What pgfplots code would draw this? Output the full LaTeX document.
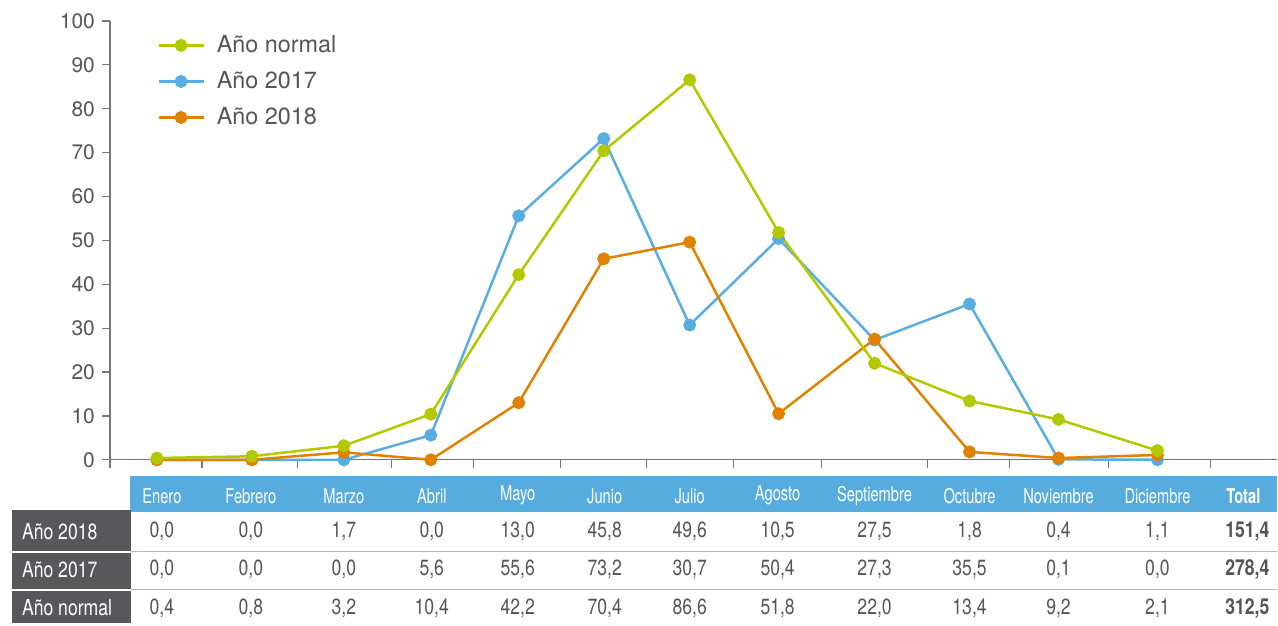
\documentclass[border=0pt]{standalone}
\usepackage{pgfplots}
\pgfplotsset{compat=1.18}
\usepackage{fontspec}
\setmainfont{TeX Gyre Heros}
\newfontfamily\cond[FakeStretch=0.72]{TeX Gyre Heros}
\newfontfamily\narrow[FakeStretch=0.8]{TeX Gyre Heros}
\definecolor{cnorm}{HTML}{B4C800}
\definecolor{c17}{HTML}{58AEE0}
\definecolor{c18}{HTML}{E08200}
\definecolor{hdr}{HTML}{56ABDF}
\definecolor{lab}{HTML}{58585A}
\definecolor{txt}{HTML}{555555}
\definecolor{axc}{HTML}{777777}
% month positions along the x axis (as drawn in the original)
\pgfplotstableread{
x    normal y2017 y2018
157  0.4    0.0   0.0
252  0.8    0.0   0.0
344  3.2    0.0   1.7
431  10.4   5.6   0.0
519  42.2   55.6  13.0
604  70.4   73.2  45.8
690  86.6   30.7  49.6
779  51.8   50.4  10.5
875  22.0   27.3  27.5
970  13.4   35.5  1.8
1059 9.2    0.1   0.4
1158 2.1    0.0   1.1
}\lluvia
\begin{document}
\begin{tikzpicture}
\begin{scope}[x=0.5pt,y=-0.5pt]
\useasboundingbox (0,0) rectangle (1278,623);
\end{scope}
\begin{axis}[
  at={(55pt,-230pt)}, anchor=south west,
  scale only axis, width=584pt, height=219.5pt,
  xmin=110, xmax=1278, ymin=0, ymax=100,
  axis x line*=bottom, axis y line*=left,
  axis line style={axc, line width=0.6pt},
  xtick={110,202,298,392,474,561,647,734,822,928,1010,1109,1211}, xticklabels={},
  ytick={0,10,...,100},
  tick style={axc, line width=0.6pt},
  tick align=outside, major tick length=4pt,
  /pgf/number format/assume math mode=true,
  yticklabel style={font=\fontsize{10.5}{12}\selectfont, text=txt},
  clip=false,
  every axis plot/.append style={line width=1.25pt, mark=*, mark size=2.6pt},
  legend image code/.code={\draw[#1,mark repeat=2,mark phase=2] plot coordinates {(0pt,0pt) (11.25pt,0pt) (22.5pt,0pt)};},
  legend style={draw=none, fill=none, at={(0,1)}, anchor=north west,
    xshift=20.5pt, yshift=-3pt, font=\fontsize{11.7}{14}\selectfont, text=txt,
    row sep=4pt, column sep=4pt},
  legend cell align=left,
]
\addplot[c17, forget plot] table[x=x, y=y2017] {\lluvia};
\addplot[c18, forget plot] table[x=x, y=y2018] {\lluvia};
\addplot[cnorm, forget plot] table[x=x, y=normal] {\lluvia};
\addlegendimage{cnorm, line width=1.25pt, mark=*, mark size=2.6pt}
\addlegendentry{Año normal}
\addlegendimage{c17, line width=1.25pt, mark=*, mark size=2.6pt}
\addlegendentry{Año 2017}
\addlegendimage{c18, line width=1.25pt, mark=*, mark size=2.6pt}
\addlegendentry{Año 2018}
\end{axis}
\begin{scope}[x=0.5pt,y=-0.5pt, val/.style={text=txt, font=\narrow\fontsize{11}{12}\selectfont}]
\fill[hdr] (130,476) rectangle (1278,512);
\foreach \x/\n in {162/Enero,251/Febrero,344/Marzo,432/Abril,518/Mayo,605/Junio,690/Julio,778/Agosto,875/Septiembre,970/Octubre,1059/Noviembre,1158/Diciembre}
  \node[text=white, font=\cond\fontsize{10.2}{11}\selectfont] at (\x,496) {\n};
\node[anchor=east, text=white, font=\cond\bfseries\fontsize{10.2}{11}\selectfont] at (1268,496) {Total};
\fill[lab] (12,510) rectangle (131,551);
\fill[lab] (12,553) rectangle (131,589);
\fill[lab] (12,591) rectangle (131,623);
\draw[c17!70, line width=0.5pt] (131,552) -- (1278,552);
\draw[c17!70, line width=0.5pt] (131,590) -- (1278,590);
\node[anchor=west, text=white, font=\narrow\fontsize{11}{12}\selectfont] at (15,532) {Año 2018};
\node[anchor=west, text=white, font=\narrow\fontsize{11}{12}\selectfont] at (15,570) {Año 2017};
\node[anchor=west, text=white, font=\narrow\fontsize{11}{12}\selectfont] at (15,608) {Año normal};
% Año 2018
\foreach \x/\v in {162/{0,0},251/{0,0},344/{1,7},432/{0,0},518/{13,0},605/{45,8},690/{49,6},778/{10,5},875/{27,5},970/{1,8},1059/{0,4},1158/{1,1}}
  \node[val] at (\x,532) {\v};
% Año 2017
\foreach \x/\v in {162/{0,0},251/{0,0},344/{0,0},432/{5,6},518/{55,6},605/{73,2},690/{30,7},778/{50,4},875/{27,3},970/{35,5},1059/{0,1},1158/{0,0}}
  \node[val] at (\x,570) {\v};
% Año normal
\foreach \x/\v in {162/{0,4},251/{0,8},344/{3,2},432/{10,4},518/{42,2},605/{70,4},690/{86,6},778/{51,8},875/{22,0},970/{13,4},1059/{9,2},1158/{2,1}}
  \node[val] at (\x,609) {\v};
\node[val, anchor=east, font=\narrow\bfseries\fontsize{11}{12}\selectfont] at (1277,532) {151,4};
\node[val, anchor=east, font=\narrow\bfseries\fontsize{11}{12}\selectfont] at (1277,570) {278,4};
\node[val, anchor=east, font=\narrow\bfseries\fontsize{11}{12}\selectfont] at (1277,609) {312,5};
\end{scope}
\end{tikzpicture}
\end{document}
